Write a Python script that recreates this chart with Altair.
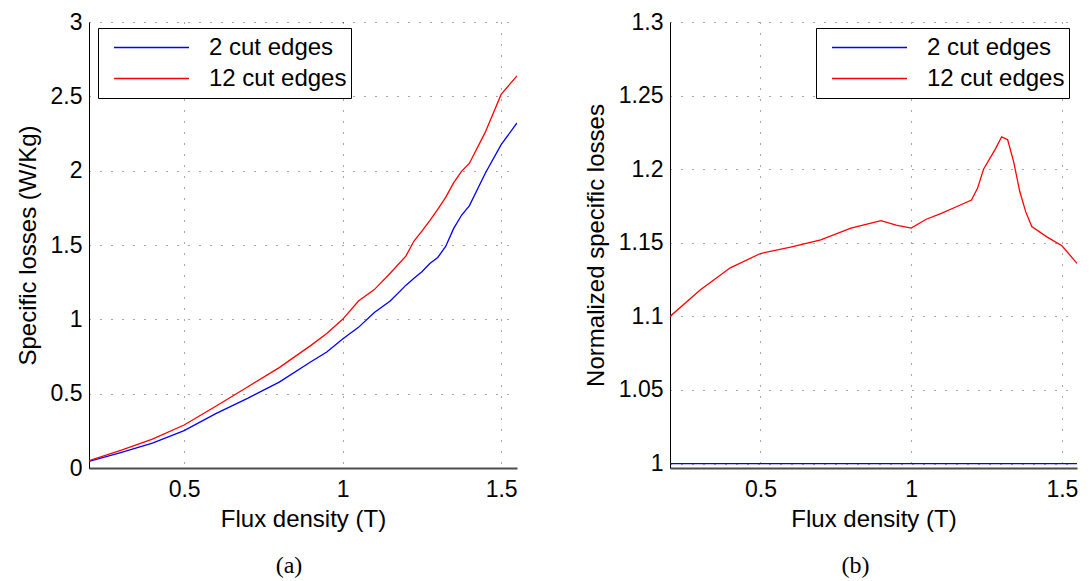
import altair as alt
import pandas as pd

# ---- data ----
B_a = [0.2, 0.3, 0.4, 0.5, 0.6, 0.7, 0.8, 0.9, 0.95, 1.0, 1.05, 1.1, 1.15, 1.2,
       1.225, 1.25, 1.275, 1.3, 1.325, 1.35, 1.375, 1.4, 1.45, 1.5, 1.55]
loss_2cut = [0.045, 0.104, 0.168, 0.251, 0.366, 0.468, 0.578, 0.715, 0.78, 0.868,
             0.946, 1.046, 1.123, 1.23, 1.277, 1.32, 1.375, 1.416, 1.49, 1.61,
             1.70, 1.765, 1.983, 2.175, 2.321]
loss_12cut = [0.05, 0.119, 0.194, 0.289, 0.415, 0.545, 0.675, 0.825, 0.905, 1.0,
              1.123, 1.2, 1.31, 1.427, 1.527, 1.593, 1.664, 1.739, 1.82, 1.918,
              1.995, 2.05, 2.259, 2.513, 2.638]

B_b = [0.2, 0.3, 0.4, 0.5, 0.6, 0.7, 0.8, 0.9, 0.95, 1.0, 1.05, 1.1, 1.15, 1.2,
       1.22, 1.24, 1.28, 1.3, 1.32, 1.34, 1.36, 1.38, 1.4, 1.45, 1.5, 1.55]
norm_2cut = [1.0, 1.0, 1.0, 1.0, 1.0, 1.0, 1.0, 1.0, 1.0, 1.0, 1.0, 1.0, 1.0, 1.0,
             1.0, 1.0, 1.0, 1.0, 1.0, 1.0, 1.0, 1.0, 1.0, 1.0, 1.0, 1.0]
norm_12cut = [1.1, 1.118, 1.133, 1.1427, 1.147, 1.152, 1.160, 1.165, 1.162, 1.160,
              1.166, 1.170, 1.1745, 1.179, 1.187, 1.200, 1.214, 1.222, 1.220, 1.205,
              1.185, 1.171, 1.161, 1.154, 1.148, 1.136]

series_names = ["2 cut edges", "12 cut edges"]
series_colors = ["#0000ff", "#ff0000"]
x_ticks = [0.5, 1.0, 1.5]
ya_ticks = [0, 0.5, 1, 1.5, 2, 2.5, 3]
yb_ticks = [1, 1.05, 1.1, 1.15, 1.2, 1.25, 1.3]

df_a = pd.DataFrame({
    "B": B_a + B_a,
    "v": loss_2cut + loss_12cut,
    "s": [series_names[0]] * len(B_a) + [series_names[1]] * len(B_a),
})
df_b = pd.DataFrame({
    "B": B_b + B_b,
    "v": norm_2cut + norm_12cut,
    "s": [series_names[0]] * len(B_b) + [series_names[1]] * len(B_b),
})

FONT = "Liberation Sans"
SERIF = "Liberation Serif"


def make_legend(lx, ly):
    return alt.Legend(
        orient="none", legendX=lx, legendY=ly, title=None,
        symbolType="stroke", symbolSize=5625, symbolStrokeWidth=1.3,
        clipHeight=31, rowPadding=0, padding=4,
        strokeColor="black", fillColor="white",
        labelFont=FONT, labelFontSize=24, labelColor="black",
        labelOffset=19, symbolOffset=11, labelLimit=400,
    )


def xaxis():
    return alt.Axis(values=x_ticks, format="~g", title="Flux density (T)",
                    grid=True, ticks=False, labelPadding=10, titlePadding=6,
                    domainColor="#4d4d4d", domainWidth=2)


def panel(df, ydomain, yvals, ytitle, lx, ly, caption, cdx, w, h):
    return alt.Chart(df, title=alt.TitleParams(
        caption, orient="bottom", anchor="middle", frame="group",
        font=SERIF, fontSize=24, fontWeight="normal", color="black",
        dx=cdx, offset=23)).mark_line(strokeWidth=1.3, clip=True).encode(
        x=alt.X("B:Q", scale=alt.Scale(domain=[0.2, 1.55], nice=False, zero=False),
                axis=xaxis()),
        y=alt.Y("v:Q", scale=alt.Scale(domain=ydomain, nice=False, zero=False),
                axis=alt.Axis(values=yvals, format="~g", title=ytitle, grid=True,
                              ticks=False, labelPadding=7, titlePadding=10,
                              domainColor="black", domainWidth=1)),
        color=alt.Color("s:N", scale=alt.Scale(domain=series_names, range=series_colors),
                        legend=make_legend(lx, ly)),
        order=alt.Order("B:Q"),
    ).properties(width=w, height=h)


left = panel(df_a, [0, 3], ya_ticks, "Specific losses (W/Kg)", 9, 6, "(a)", -14, 428, 446)
right = panel(df_b, [0.997, 1.3], yb_ticks, "Normalized specific losses", 146, 6, "(b)", -18, 407, 446)

chart = alt.hconcat(left, right, spacing=66).resolve_legend(color="independent").resolve_scale(
    color="independent").configure(
    padding={"left": 8, "top": 3, "right": 0, "bottom": 0},
    background="white",
).configure_view(stroke=None).configure_axis(
    labelFont=FONT, labelFontSize=23, labelColor="black",
    titleFont=FONT, titleFontSize=24, titleColor="black", titleFontWeight="normal",
    gridColor="black", gridDash=[1, 10], gridOpacity=0.7, gridWidth=1,
)

chart.save("out.html", embed_options={"renderer": "svg", "actions": False})
